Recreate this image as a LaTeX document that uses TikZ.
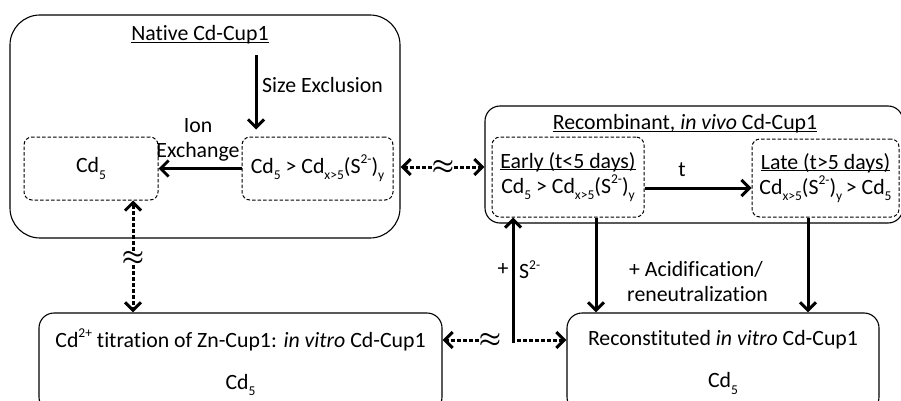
\documentclass[tikz,border=0pt]{standalone}
\usepackage{fontspec}
\setmainfont{Carlito}[Ligatures=NoCommon]
\usetikzlibrary{arrows.meta}
\newcommand{\lowtext}[1]{\raisebox{-0.3em}{\fontsize{13.5}{13.5}\selectfont #1}}
\newcommand{\hightext}[1]{\raisebox{0.42em}{\fontsize{13.5}{13.5}\selectfont #1}}
\newcommand{\headline}[1]{\underline{\raisebox{0pt}[\height][0pt]{#1}}}
\begin{document}
\begin{tikzpicture}[x=1pt,y=-1pt]
	\tikzstyle{outer} = [draw, line width=1.1pt, rounded corners=15pt, inner sep=0pt, align=center]
	\tikzstyle{inner} = [draw, line width=1pt, dash pattern=on 3.5pt off 2pt, rounded corners=8pt, inner sep=0pt, align=center]
	\tikzstyle{lbl} = [inner sep=0pt, align=center]
	\tikzstyle{apx} = [inner sep=0pt, font=\fontsize{26}{26}\selectfont\boldmath]
	\tikzstyle{flow} = [line width=3pt, -{Straight Barb[length=8pt,width=16pt]}]
	\tikzstyle{link} = [line width=3pt, dash pattern=on 3.5pt off 2.5pt, -{Straight Barb[length=8pt,width=16pt]}]
	\fontsize{21.8}{25}\selectfont
	\useasboundingbox (0,0) rectangle (901,401);
	% outer boxes
	\node[outer, rounded corners=30pt, minimum width=390pt, minimum height=223pt] (native) at (205,126.5) {};
	\node[outer, minimum width=418pt, minimum height=117pt] (recomb) at (694,164.5) {};
	\node[outer, minimum width=403pt, minimum height=99pt] (titration) at (240.5,362.5)
		{Cd\hightext{2+} titration of Zn-Cup1: \textit{in vitro} Cd-Cup1\\[17pt]Cd\lowtext{5}};
	\node[outer, minimum width=312pt, minimum height=99pt] (recon) at (723,362.5)
		{Reconstituted \textit{in vitro} Cd-Cup1\\[17pt]Cd\lowtext{5}};
	% titles
	\node[lbl] (native-title) at (200,34) {\headline{Native Cd-Cup1}};
	\node[lbl] (recomb-title) at (685,123) {\headline{Recombinant, \textit{in vivo} Cd-Cup1}};
	% inner boxes
	\node[inner, minimum width=134pt, minimum height=63pt] (cd5) at (91,168.5) {Cd\lowtext{5}};
	\node[inner, minimum width=151pt, minimum height=63pt] (mix) at (317.5,168.5)
		{Cd\lowtext{5} > Cd\lowtext{x>5}(S\hightext{2-})\lowtext{y}};
	\node[inner, minimum width=152pt, minimum height=80pt] (early) at (568,177)
		{\headline{Early (t<5 days)}\\Cd\lowtext{5} > Cd\lowtext{x>5}(S\hightext{2-})\lowtext{y}};
	\node[inner, minimum width=147pt, minimum height=78pt] (late) at (825.5,178)
		{\headline{Late (t>5 days)}\\Cd\lowtext{x>5}(S\hightext{2-})\lowtext{y}\,> Cd\lowtext{5}};
	% solid arrows
	\coordinate (se) at (256,55);
	\draw[flow, shorten >=7pt] (se) -- (se |- mix.north);
	\node[lbl, anchor=west] (se-label) at (262,85) {Size Exclusion};
	\draw[flow] (mix.west) -- (cd5.east);
	\node[lbl] (ie-label) at (198,140) {Ion\\Exchange};
	\draw[flow] ([yshift=-11pt]early.east) -- ([yshift=-11pt]early.east -| late.west);
	\node[lbl] (t-label) at (682,170) {t};
	\draw[flow] ([xshift=28pt]early.south) -- ([xshift=28pt]early.south |- recon.north);
	\draw[flow] ([xshift=-17.5pt]late.south) -- ([xshift=-17.5pt]late.south |- recon.north);
	\node[lbl, anchor=west] (acid-label) at (624,282) {+ Acidification/\\\hspace{3pt}reneutralization};
	\coordinate (split) at (513,343);
	\draw[flow] (split) -- (split |- early.south);
	\node[lbl] (plus-label) at (503,270) {+};
	\node[lbl, anchor=west] (s-label) at (519,270) {S\hightext{2-}};
	% dotted links
	\node[apx] (apx-top) at (443,167) {$\approx$};
	\draw[link] (apx-top) -- (apx-top -| native.east);
	\draw[link] (apx-top) -- (apx-top -| recomb.west);
	\node[apx] (apx-left) at (133,258) {$\approx$};
	\draw[link] (apx-left) -- (apx-left |- cd5.south);
	\draw[link] (apx-left) -- (apx-left |- titration.north);
	\node[apx] (apx-bot) at (490,340) {$\approx$};
	\draw[link] (apx-bot) -- (apx-bot -| titration.east);
	\draw[link] ([xshift=4pt]split |- apx-bot) -- (apx-bot -| recon.west);
\end{tikzpicture}
\end{document}
